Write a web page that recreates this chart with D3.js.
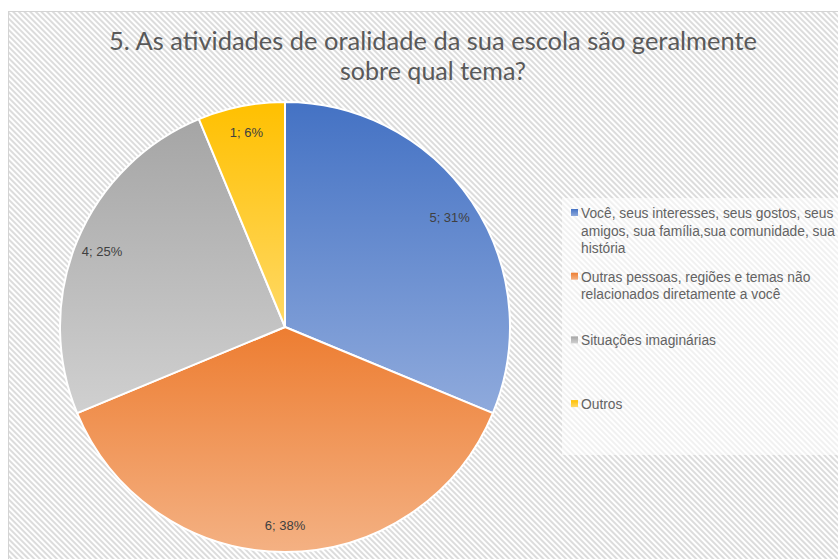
<!DOCTYPE html>
<html>
<head>
<meta charset="utf-8">
<script src="https://cdn.jsdelivr.net/npm/d3@7"></script>
<style>
  html, body { margin: 0; padding: 0; background: #fff; overflow: hidden; }
</style>
</head>
<body>
<div id="chart"></div>
<script>
const categories = [
  "Você, seus interesses, seus gostos, seus amigos, sua família,sua comunidade, sua história",
  "Outras pessoas, regiões e temas não relacionados diretamente a você",
  "Situações imaginárias",
  "Outros"
];
const values = [5, 6, 4, 1];
const percents = ["31%", "38%", "25%", "6%"];
const legendLines = [
  ["Você, seus interesses, seus gostos, seus", "amigos, sua família,sua comunidade, sua", "história"],
  ["Outras pessoas, regiões e temas não", "relacionados diretamente a você"],
  ["Situações imaginárias"],
  ["Outros"]
];
const titleLines = ["5. As atividades de oralidade da sua escola são geralmente", "sobre qual tema?"];

const topColors = ["#4472c4", "#ed7d31", "#a5a5a5", "#ffc000"];
const bottomColors = ["#8faadc", "#f4b183", "#d0d0d0", "#ffd966"];

const width = 838, height = 559;

const svg = d3.select("#chart").append("svg")
  .attr("width", width)
  .attr("height", height);

const defs = svg.append("defs");

// hatched background
const hatch = defs.append("pattern")
  .attr("id", "hatch")
  .attr("patternUnits", "userSpaceOnUse")
  .attr("width", 4)
  .attr("height", 4)
  .attr("patternTransform", "rotate(-45)");
hatch.append("rect").attr("width", 4).attr("height", 4).attr("fill", "#ffffff");
hatch.append("rect").attr("width", 2).attr("height", 4).attr("fill", "#dcdcdc");

topColors.forEach((c, i) => {
  const g = defs.append("linearGradient")
    .attr("id", "grad" + i)
    .attr("x1", 0).attr("y1", 0).attr("x2", 0).attr("y2", 1);
  g.append("stop").attr("offset", "0%").attr("stop-color", c);
  g.append("stop").attr("offset", "100%").attr("stop-color", bottomColors[i]);
});

// chart area
svg.append("rect")
  .attr("x", 8.5).attr("y", 11.5)
  .attr("width", width + 10).attr("height", height + 10)
  .attr("fill", "url(#hatch)")
  .attr("stroke", "#d4d4d4")
  .attr("stroke-width", 1);

// title
svg.append("g")
  .selectAll("text")
  .data(titleLines)
  .enter()
  .append("text")
  .attr("x", 433)
  .attr("y", (d, i) => 50 + i * 30)
  .attr("text-anchor", "middle")
  .attr("font-family", "Lato, 'Open Sans', sans-serif")
  .attr("font-size", "25px")
  .attr("fill", "#595959")
  .attr("textLength", (d, i) => (i === 0 ? 648 : 186))
  .attr("lengthAdjust", "spacingAndGlyphs")
  .text((d) => d);

// pie
const cx = 285, cy = 327, radius = 225;
const pie = d3.pie().sort(null).value((d) => d);
const arcs = pie(values);
const arc = d3.arc().innerRadius(0).outerRadius(radius);
const labelArc = d3.arc().innerRadius(radius * 0.88).outerRadius(radius * 0.88);

const pieG = svg.append("g").attr("transform", `translate(${cx},${cy})`);

pieG.selectAll("path")
  .data(arcs)
  .enter()
  .append("path")
  .attr("d", arc)
  .attr("fill", (d, i) => `url(#grad${i})`)
  .attr("stroke", "#ffffff")
  .attr("stroke-width", 2)
  .attr("stroke-linejoin", "round");

pieG.selectAll(".label")
  .data(arcs)
  .enter()
  .append("text")
  .attr("class", "label")
  .attr("transform", (d) => `translate(${labelArc.centroid(d)})`)
  .attr("dy", "0.35em")
  .attr("text-anchor", "middle")
  .attr("font-family", "'Liberation Sans', Arial, sans-serif")
  .attr("font-size", "13px")
  .attr("fill", "#404040")
  .text((d, i) => `${values[i]}; ${percents[i]}`);

// legend
const legend = svg.append("g");
legend.append("rect")
  .attr("x", 562).attr("y", 198)
  .attr("width", 300).attr("height", 257)
  .attr("fill", "#ffffff")
  .attr("fill-opacity", 0.6);

const items = legend.selectAll(".item")
  .data(categories)
  .enter()
  .append("g")
  .attr("class", "item")
  .attr("transform", (d, i) => `translate(0,${218 + i * 63.7})`);

items.append("rect")
  .attr("x", 571)
  .attr("y", -9)
  .attr("width", 7)
  .attr("height", 7)
  .attr("fill", (d, i) => `url(#grad${i})`);

items.each(function (d, i) {
  d3.select(this).selectAll("text")
    .data(legendLines[i])
    .enter()
    .append("text")
    .attr("x", 581)
    .attr("y", (t, j) => j * 17.7)
    .attr("font-family", "'Liberation Sans', Arial, sans-serif")
    .attr("font-size", "13.8px")
    .attr("fill", "#636363")
    .text((t) => t);
});
</script>
</body>
</html>
